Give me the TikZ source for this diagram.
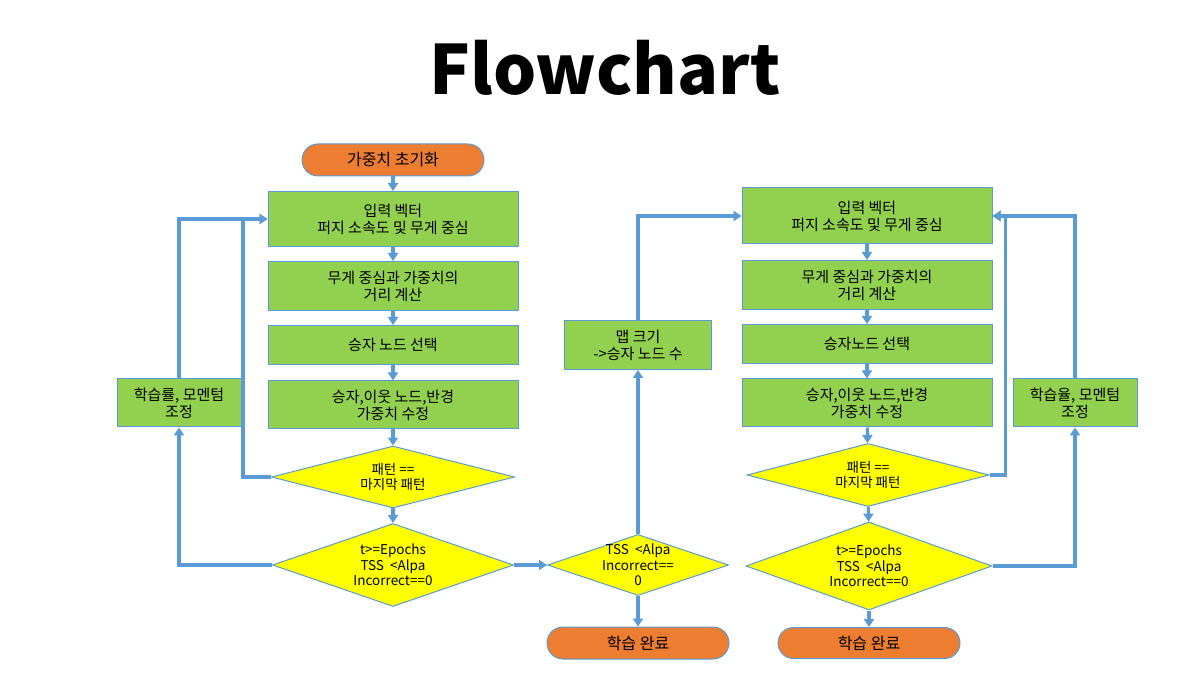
\documentclass[tikz,border=0pt]{standalone}
\usepackage{fontspec}
\setmainfont{Noto Sans CJK KR}
\usetikzlibrary{arrows.meta,shapes.geometric,shapes.misc}
\definecolor{boxgreen}{HTML}{92D050}
\definecolor{termorange}{HTML}{ED7D31}
\definecolor{decyellow}{HTML}{FFFF00}
\definecolor{linkblue}{HTML}{5B9BD5}

\begin{document}
\begin{tikzpicture}[x=1pt,y=-1pt,>={Triangle[length=8pt,width=10pt]},
  every node/.style={font=\fontsize{15}{17}\selectfont,align=center},
  proc/.style={draw=linkblue,line width=1pt,fill=boxgreen,minimum width=250pt,inner sep=0pt},
  adjbox/.style={proc,minimum width=124pt,minimum height=48pt},
  term/.style={rounded rectangle,draw=linkblue,line width=1pt,fill=termorange,
    minimum width=182pt,minimum height=32pt,inner sep=0pt,font=\fontsize{16}{18}\selectfont},
  dec/.style={diamond,draw=linkblue,line width=1pt,fill=decyellow,inner sep=0pt},
  dectext/.style={font=\fontsize{13.5}{15.5}\selectfont,align=center,inner sep=0pt},
  link/.style={->,draw=linkblue,line width=3.2pt}]
\fill[white] (0,0) rectangle (1203,676);
\useasboundingbox (0,0) rectangle (1203,676);
\node[font=\fontsize{68}{78}\selectfont\bfseries] (title) at (605,68) {Flowchart};
% left column
\node[term] (start) at (393,160) {가중치 초기화};
\node[proc,minimum height=55pt] (lb1) at (393,219) {입력 벡터\\퍼지 소속도 및 무게 중심};
\node[proc,minimum height=49pt] (lb2) at (393,286) {무게 중심과 가중치의\\거리 계산};
\node[proc,minimum height=39pt] (lb3) at (393,345) {승자 노드 선택};
\node[proc,minimum height=48pt] (lb4) at (393,405) {승자,이웃 노드,반경\\가중치 수정};
\node[dec,minimum width=243pt,minimum height=62pt,
  label={[dectext]center:패턴 ==\\마지막 패턴}] (ld1) at (393,477) {};
\node[dec,minimum width=241pt,minimum height=83pt,
  label={[dectext]center:t>=Epochs\\TSS \ <Alpa\\Incorrect==0}] (ld2) at (393,565) {};
\node[adjbox] (ladj) at (179,403) {학습률, 모멘텀\\조정};
% middle
\node[dec,minimum width=181pt,minimum height=61pt,
  label={[dectext]center:TSS \ <Alpa\\Incorrect==\\0}] (mdec) at (638,565) {};
\node[proc,minimum width=147pt,minimum height=49pt] (mbox) at (638,345) {맵 크기\\->승자 노드 수};
\node[term] (mend) at (638,643) {학습 완료};
% right column
\node[proc,minimum height=56pt] (rb1) at (867,216) {입력 벡터\\퍼지 소속도 및 무게 중심};
\node[proc,minimum height=49pt] (rb2) at (867,285) {무게 중심과 가중치의\\거리 계산};
\node[proc,minimum height=39pt] (rb3) at (867,344) {승자노드 선택};
\node[proc,minimum height=48pt] (rb4) at (867,403) {승자,이웃 노드,반경\\가중치 수정};
\node[dec,minimum width=242pt,minimum height=63pt,
  label={[dectext]center:패턴 ==\\마지막 패턴}] (rd1) at (868,475) {};
\node[dec,minimum width=246pt,minimum height=88pt,
  label={[dectext]center:t>=Epochs\\TSS \ <Alpa\\Incorrect==0}] (rd2) at (869,566) {};
\node[term,minimum height=31pt] (rend) at (869,643) {학습 완료};
\node[adjbox] (radj) at (1075,403) {학습율, 모멘텀\\조정};
% connectors
\draw[link] (start) -- (lb1);
\draw[link] (lb1) -- (lb2);
\draw[link] (lb2) -- (lb3);
\draw[link] (lb3) -- (lb4);
\draw[link] (lb4) -- (ld1);
\draw[link] (ld1) -- (ld2);
\draw[link] (ld1.west) -- ++(-28,0) |- (lb1.west);
\draw[link] (ld2.west) -| (ladj.south);
\draw[link] (ladj.north) |- (lb1.west);
\draw[link] (ld2.east) -- (mdec.west);
\draw[link] (mdec.north) -- (mbox.south);
\draw[link] (mbox.north) |- (rb1.west);
\draw[link] (mdec.south) -- (mend.north);
\draw[link] (rb1) -- (rb2);
\draw[link] (rb2) -- (rb3);
\draw[link] (rb3) -- (rb4);
\draw[link] (rb4) -- (rd1);
\draw[link] (rd1) -- (rd2);
\draw[link] (rd2) -- (rend);
\draw[link] (rd1.east) -- ++(16,0) |- (rb1.east);
\draw[link] (rd2.east) -| (radj.south);
\draw[link] (radj.north) |- (rb1.east);
\end{tikzpicture}
\end{document}
